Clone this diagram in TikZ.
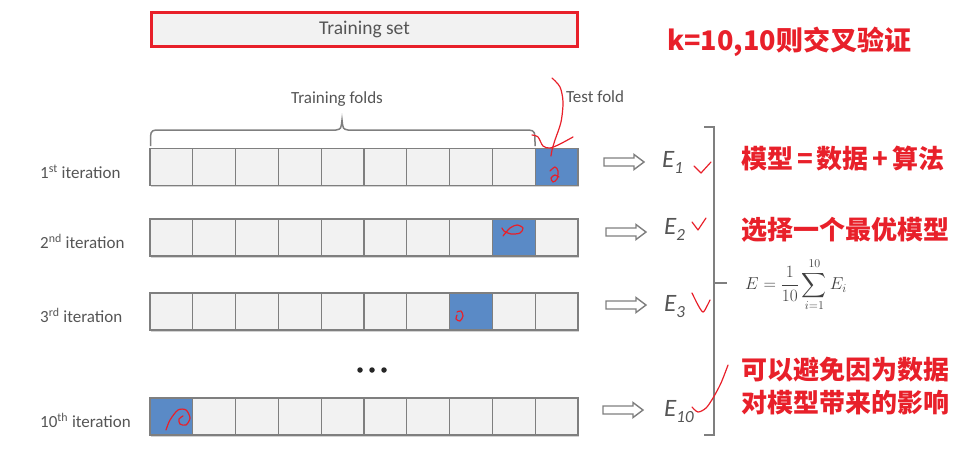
\documentclass[tikz,border=0pt]{standalone}
\usepackage{amsmath}
\usepackage{fontspec}
\setmainfont{Carlito}
\newfontfamily\cjk{Noto Sans CJK SC}
\usetikzlibrary{shadows}
\definecolor{cellgray}{HTML}{F2F2F2}
\definecolor{edgegray}{HTML}{7F7F7F}
\definecolor{foldblue}{HTML}{5A8AC6}
\definecolor{markred}{HTML}{E8202A}
\definecolor{txtgray}{HTML}{555555}
\begin{document}
\begin{tikzpicture}[x=1pt,y=-1pt,
  rowbg/.style={fill=cellgray, minimum width=428pt, minimum height=37pt, inner sep=0, outer sep=0,
    drop shadow={shadow xshift=1pt, shadow yshift=-1.5pt, opacity=0.35}},
  cell/.style={draw=edgegray, line width=1.3pt, minimum width=42.8pt, minimum height=37pt, inner sep=0, outer sep=0},
  lab/.style={text=txtgray, font=\fontsize{17}{20}\selectfont, anchor=west, inner sep=0},
  anchorpt/.style={inner sep=0, minimum size=0pt},
  hollow/.style={draw=edgegray, line width=1.4pt, fill=white, line join=miter},
  elab/.style={text=txtgray, font=\fontsize{25}{28}\selectfont\itshape, inner sep=0, anchor=west},
  redtxt/.style={text=markred, font={\cjk\fontsize{26}{30}\selectfont\bfseries}, inner sep=0, anchor=west},
  pen/.style={draw=markred, line width=1.2pt, line cap=round, line join=round},
  graystroke/.style={draw=edgegray, line width=1.8pt}]

\useasboundingbox (0,0) rectangle (960,467);

% training set box
\node[draw=markred, line width=3pt, fill=cellgray, minimum width=426pt, minimum height=34pt,
  inner sep=0, text=txtgray, font=\fontsize{19.5}{22}\selectfont,
  drop shadow={shadow xshift=1.5pt, shadow yshift=-2pt, opacity=0.35}] (ts) at (364.5,29) {Training set};

\node[redtxt, font={\cjk\fontsize{27}{30}\selectfont\bfseries}] (ktxt) at (667,42) {k=10,10则交叉验证};

% training folds brace
\node[text=txtgray, font=\fontsize{17}{20}\selectfont, inner sep=0] (tf) at (337,99) {Training folds};
\node[lab] (testf) at (566,97) {Test fold};
\draw[graystroke, line width=1.5pt] (150.5,146) .. controls (150.5,131) .. (156,130) -- (336,130)
  .. controls (341,129) .. (342,120) .. controls (343,129) .. (348,130) -- (529,130)
  .. controls (535,131) .. (535,146);

% rows
\foreach \r/\y/\b/\ly/\sup in {1/167/10/172/st, 2/237.5/9/241.5/nd, 3/311.5/8/315.5/rd, 10/416.5/1/420.5/th}{
  \node[rowbg] (row\r) at (364,\y) {};
  \foreach \i in {1,...,10}{
    \pgfmathsetmacro\cx{150+42.8*(\i-0.5)}
    \ifnum\i=\b \def\fc{foldblue}\else\def\fc{cellgray}\fi
    \node[cell, fill=\fc] (c\r-\i) at (\cx,\y) {};
  }
  \node[lab] (lab\r) at (40,\ly) {\r\textsuperscript{\sup} iteration};
}

% dots
\foreach \k/\xx in {a/360,b/372,c/384}
  \node[circle, fill=black!85, minimum size=5.5pt, inner sep=0] (dot\k) at (\xx,370) {};

% hollow arrows
\foreach \n/\ax/\ay in {1/624/162, 2/626/232, 3/626/305, 10/623/410}{
  \node[anchorpt] (a\n) at (\ax,\ay) {};
  \draw[hollow, shift={(a\n)}] (-20,-4) -- (10,-4) -- (10,-7.5) -- (20,0) -- (10,7.5) -- (10,4) -- (-20,4) -- cycle;
}

% E labels
\node[elab] (e1) at (662,162) {E\raisebox{-6pt}{\fontsize{17}{17}\selectfont 1}};
\node[elab] (e2) at (664,229) {E\raisebox{-6pt}{\fontsize{17}{17}\selectfont 2}};
\node[elab] (e3) at (664,307) {E\raisebox{-6pt}{\fontsize{17}{17}\selectfont 3}};
\node[elab] (e10) at (664,412) {E\raisebox{-6pt}{\fontsize{17}{17}\selectfont 10}};

% big bracket
\coordinate (bt) at (704,127);
\coordinate (bb) at (704,435);
\coordinate (bm) at (714,283);
\draw[graystroke, line width=2pt] (bt) -- (714,127) -- (714,435) -- (bb);
\draw[graystroke, line width=2pt] (bm) -- (727,283);

% formula
\node[text=black!75, font=\fontsize{18}{22}\selectfont, inner sep=0] (form) at (796,285)
  {$\displaystyle E=\frac{1}{10}\sum_{i=1}^{10}E_i$};

% red notes
\node[redtxt] (n1) at (741,159) {模型\hspace{0.15em}=\hspace{0.15em}数据\hspace{0.15em}+\hspace{0.15em}算法};
\node[redtxt] (n2) at (741,230) {选择一个最优模型};
\node[redtxt] (n3) at (741,370) {可以避免因为数据};
\node[redtxt] (n4) at (741,403) {对模型带来的影响};

% handwritten marks
\draw[pen] plot[smooth] coordinates {(552,78) (560,87) (563,102) (561,122) (555,140) (552,150) (551,156)};
\draw[pen] plot[smooth] coordinates {(532,135) (538,137) (543,146) (550,148) (560,144) (573,137)};
\draw[pen] plot[smooth] coordinates {(550,171) (555,167) (558,171) (557,179) (553,182) (551,178) (555,175) (559,177)};
\draw[pen] plot[smooth] coordinates {(503,236) (510,228) (517,225) (523,228) (520,233) (511,234) (504,231) (502,228)};
\draw[pen] plot[smooth] coordinates {(457,312) (461,311) (463,316) (460,321) (456,319) (457,315)};
\draw[pen] plot[smooth] coordinates {(166,430) (170,420) (178,410) (186,410) (190,418) (186,425) (180,424) (179,419) (183,416)};
\draw[pen] (694,166) -- (701,173) -- (711,162);
\draw[pen] (692,222) -- (698,230) -- (706,218);
\draw[pen] plot[smooth] coordinates {(692,293) (698,305) (703,312) (707,306) (710,300)};
\draw[pen] plot[smooth] coordinates {(692,407) (698,412) (706,408) (713,398) (721,383) (728,365)};
\end{tikzpicture}
\end{document}
